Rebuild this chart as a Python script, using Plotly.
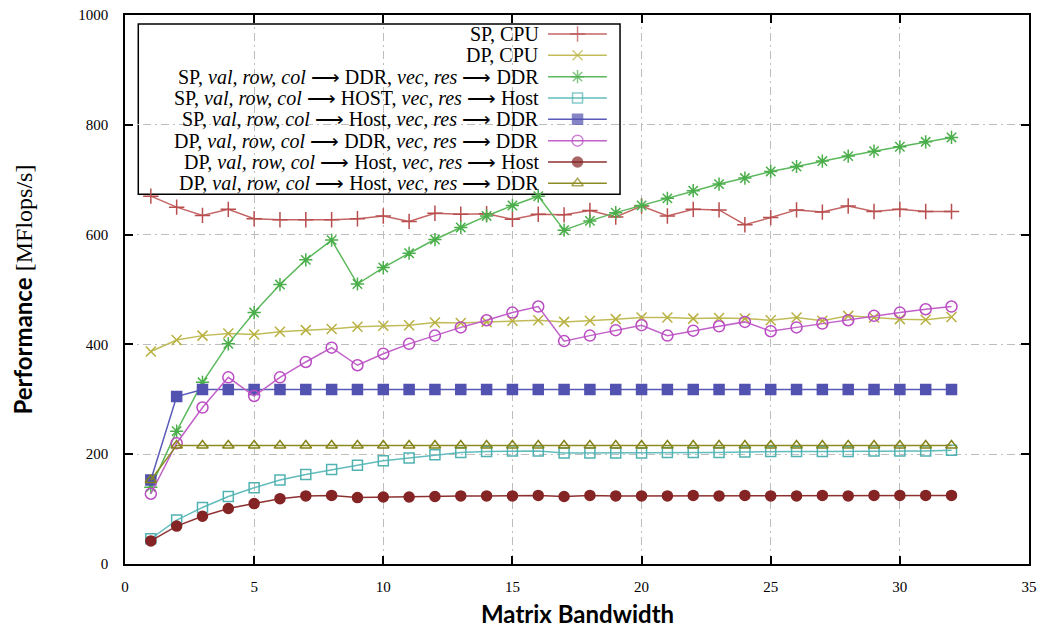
import plotly.graph_objects as go

# Matrix bandwidth (x) and measured performance in MFlops/s for each configuration
bandwidth = list(range(1, 33))

sp_cpu = [670, 650, 635, 646, 629, 627, 627, 627, 629, 634, 624, 639, 637, 638, 628, 637,
          636, 644, 632, 652, 634, 646, 645, 618, 631, 645, 641, 652, 642, 646, 642, 642]
dp_cpu = [387, 408, 416, 420, 418, 423, 426, 428, 432, 434, 435, 440, 439, 441, 443, 444,
          441, 443, 446, 449, 449, 447, 448, 447, 444, 449, 443, 452, 449, 446, 445, 450]
sp_ddr_ddr = [140, 242, 331, 401, 458, 509, 554, 590, 510, 540, 566, 591, 613, 634, 653, 670,
              608, 625, 640, 653, 666, 680, 692, 703, 715, 724, 734, 743, 752, 760, 769, 777]
sp_host_host = [46, 80, 103, 123, 139, 153, 163, 172, 180, 188, 193, 199, 203, 205, 206, 206,
                202, 202, 202, 202, 203, 203, 203, 204, 205, 205, 205, 205, 206, 206, 206, 207]
sp_host_ddr = [153, 305, 318, 318, 318, 318, 318, 318, 318, 318, 318, 318, 318, 318, 318, 318,
               318, 318, 318, 318, 318, 318, 318, 318, 318, 318, 318, 318, 318, 318, 318, 318]
dp_ddr_ddr = [128, 220, 285, 340, 306, 340, 368, 394, 362, 383, 401, 416, 431, 444, 458, 469,
              406, 416, 426, 435, 416, 425, 433, 441, 424, 431, 438, 444, 452, 458, 464, 469]
dp_host_host = [42, 69, 87, 101, 110, 119, 124, 125, 121, 122, 122, 123, 124, 124, 124, 125,
                123, 125, 124, 124, 124, 125, 124, 125, 124, 124, 125, 124, 125, 125, 125, 125]
dp_host_ddr = [153, 216, 216, 216, 216, 216, 216, 216, 216, 216, 216, 216, 216, 216, 216, 216,
               216, 216, 216, 216, 216, 216, 216, 216, 216, 216, 216, 216, 216, 216, 216, 216]

x_ticks = [0, 5, 10, 15, 20, 25, 30, 35]
y_ticks = [0, 200, 400, 600, 800, 1000]

ARROW = "\u27f6"
labels = [
    "SP, CPU",
    "DP, CPU",
    f"SP, <i>val, row, col</i> {ARROW} DDR, <i>vec, res</i> {ARROW} DDR",
    f"SP, <i>val, row, col</i> {ARROW} HOST, <i>vec, res</i> {ARROW} Host",
    f"SP, <i>val, row, col</i> {ARROW} Host, <i>vec, res</i> {ARROW} DDR",
    f"DP, <i>val, row, col</i> {ARROW} DDR, <i>vec, res</i> {ARROW} DDR",
    f"DP, <i>val, row, col</i> {ARROW} Host, <i>vec, res</i> {ARROW} Host",
    f"DP, <i>val, row, col</i> {ARROW} Host, <i>vec, res</i> {ARROW} DDR",
]

series = [sp_cpu, dp_cpu, sp_ddr_ddr, sp_host_host, sp_host_ddr, dp_ddr_ddr, dp_host_host, dp_host_ddr]

# (line colour, marker colour, symbol, marker size)
styles = [
    ("#c46464", "#b84e4e", "cross-thin-open", 11),
    ("#c2bc58", "#b8b040", "x-thin-open", 10),
    ("#5cb85c", "#4aae4a", "asterisk-open", 11),
    ("#62bcbc", "#52b2b2", "square-open", 10),
    ("#5a5ab8", "#5252b0", "square", 10),
    ("#c060c8", "#bb4cc4", "circle-open", 11),
    ("#8e3030", "#842424", "circle", 10),
    ("#8c8a22", "#85831a", "triangle-up-open", 10),
]

SERIF = "Liberation Serif"
SANS = "Lato"

fig = go.Figure()

for vals, (lc, mc, sym, ms) in zip(series, styles):
    fig.add_trace(go.Scatter(
        x=bandwidth, y=vals, mode="lines+markers",
        line=dict(color=lc, width=1.5),
        marker=dict(symbol=sym, size=ms, color=mc, line=dict(color=mc, width=1.5)),
        showlegend=False, hoverinfo="skip",
    ))

# Key box in the upper left, drawn on an overlay axis spanning the plot area
box_x0, box_x1, box_y0, box_y1 = 0.0147, 0.5476, 0.6734, 0.9836
row_top = 0.9654
row_step = 0.03886
text_right = 0.4600
sample_x = [0.468, 0.5006, 0.533]

fig.add_shape(type="rect", xref="paper", yref="paper",
              x0=box_x0, x1=box_x1, y0=box_y0, y1=box_y1,
              line=dict(color="black", width=1.5), fillcolor="white", layer="between")

for i, (label, (lc, mc, sym, ms)) in enumerate(zip(labels, styles)):
    yrow = row_top - i * row_step
    fig.add_trace(go.Scatter(
        x=sample_x, y=[yrow] * 3, xaxis="x2", yaxis="y2", mode="lines+markers",
        line=dict(color=lc, width=1.5),
        marker=dict(symbol=sym, size=[0, ms, 0], color=mc, line=dict(color=mc, width=1.5)),
        showlegend=False, hoverinfo="skip",
    ))
    fig.add_annotation(x=text_right, y=yrow, xref="paper", yref="paper",
                       text=label, showarrow=False, xanchor="right", yanchor="middle",
                       font=dict(family=SERIF, size=20, color="black"))

axis_common = dict(
    showline=True, linecolor="black", linewidth=1.5, mirror="ticks",
    ticks="inside", ticklen=8, tickwidth=1.5, tickcolor="black",
    showgrid=True, gridcolor="#bdbdbd", gridwidth=1, griddash="8px,4px,2px,4px",
    zeroline=False, automargin=False,
    tickfont=dict(family=SERIF, size=15, color="black"),
)

fig.update_layout(
    width=1040, height=628,
    margin=dict(l=125, r=11, t=15, b=64, autoexpand=False),
    paper_bgcolor="white", plot_bgcolor="white",
    xaxis=dict(range=[0, 35], tickvals=x_ticks, ticklabelstandoff=8, **axis_common),
    yaxis=dict(range=[0, 1000], tickvals=y_ticks, ticklabelstandoff=12, **axis_common),
    xaxis2=dict(range=[0, 1], overlaying="x", visible=False, fixedrange=True),
    yaxis2=dict(range=[0, 1], overlaying="y", visible=False, fixedrange=True),
    showlegend=False,
)

fig.add_annotation(x=0.5, y=-0.091, xref="paper", yref="paper", showarrow=False,
                   text="<b>Matrix Bandwidth</b>", xanchor="center", yanchor="middle",
                   font=dict(family=SANS, size=24, color="black"))
fig.add_annotation(x=-0.1139, y=0.5, xref="paper", yref="paper", showarrow=False,
                   textangle=-90, xanchor="center", yanchor="middle",
                   text=f"<b>Performance</b> <span style='font-family:{SERIF}'>[MFlops/s]</span>",
                   font=dict(family=SANS, size=24, color="black"))

fig.write_html("out.html")
